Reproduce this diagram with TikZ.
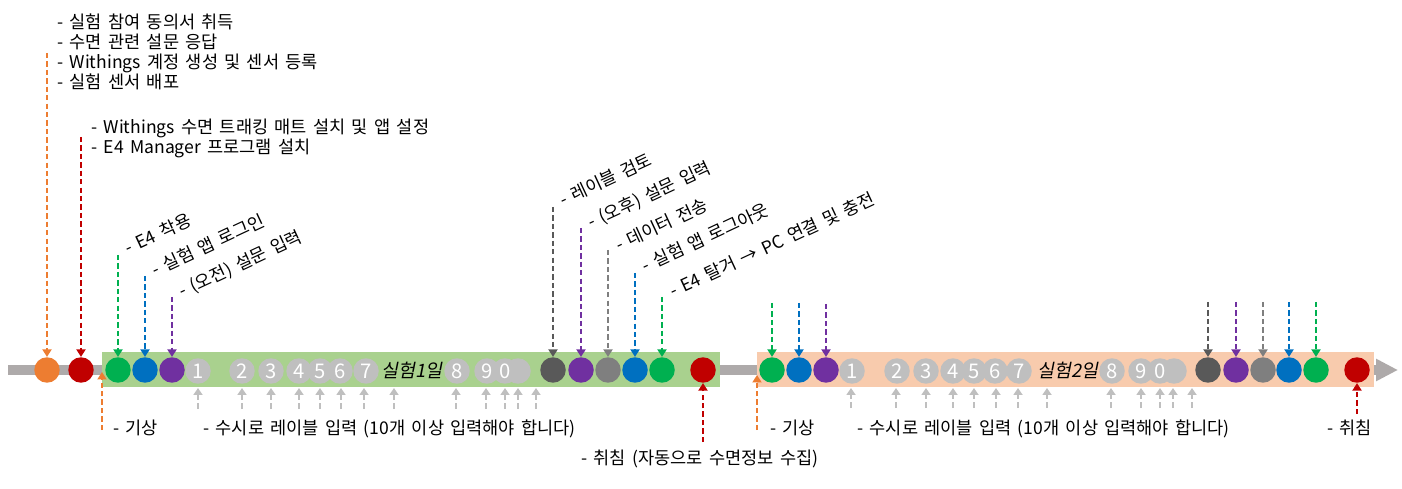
\documentclass[tikz,border=0pt]{standalone}
\usepackage{fontspec}
\setmainfont{Noto Sans CJK KR}[WordSpace=1.6]
\newfontfamily\slantfont{Noto Sans CJK KR}[FakeSlant=0.2]
\usepackage{tikz}
\usetikzlibrary{arrows.meta}
\definecolor{axisgrey}{RGB}{174,170,170}
\definecolor{bandgreen}{RGB}{169,209,142}
\definecolor{bandorange}{RGB}{248,203,173}
\definecolor{preporange}{RGB}{237,125,49}
\definecolor{sleepred}{RGB}{192,0,0}
\definecolor{weargreen}{RGB}{0,176,80}
\definecolor{loginblue}{RGB}{0,112,192}
\definecolor{surveypurple}{RGB}{112,48,160}
\definecolor{reviewgrey}{RGB}{89,89,89}
\definecolor{sendgrey}{RGB}{127,127,127}
\definecolor{numgrey}{RGB}{191,191,191}
\tikzset{
  dot/.style={circle,minimum size=5.1mm,inner sep=0pt},
  numdot/.style={dot,fill=numgrey,text=white,font=\fontsize{11.5}{11.5}\selectfont},
  note/.style={anchor=base west,inner sep=0pt,font=\fontsize{10}{12}\selectfont},
  tilted/.style={note,rotate=25},
  daytext/.style={inner sep=0pt,font=\slantfont\fontsize{10.5}{12}\selectfont},
  cue/.style={line width=1.2pt,dash pattern=on 3pt off 1.8pt,
    -{Triangle[length=1.5mm,width=1.8mm]}},
  inputcue/.style={line width=1.1pt,draw=numgrey,dash pattern=on 3.2pt off 2pt,
    -{Triangle[length=1.4mm,width=1.8mm]}},
  axisbar/.style={line width=2.2mm,draw=axisgrey,
    -{Triangle[length=4.4mm,width=4.2mm]}}
}

\begin{document}
\begin{tikzpicture}[x=0.02cm,y=-0.02cm]
  \useasboundingbox (0,0) rectangle (1402,489);
  \coordinate (start) at (8,370);
  \coordinate (finish) at (1398,370);
  \draw[axisbar] (start) -- (finish);
  \fill[bandgreen] (102,352) rectangle (720,387);
  \fill[bandorange] (757,352) rectangle (1374,387);

  \node[dot,fill=preporange] (consent) at (47,370) {};
  \node[dot,fill=sleepred] (install) at (81,370) {};

  \node[dot,fill=weargreen] (wearone) at (118,370) {};
  \node[dot,fill=loginblue] (loginone) at (145,370) {};
  \node[dot,fill=surveypurple] (amone) at (172,370) {};
  \node[numdot] (blankone) at (518,371) {};
  \foreach \x/\n [count=\i] in {198/1,242/2,271/3,299/4,320/5,340/6,366/7,457/8,487/9,505/0}
    \node[numdot] (labone\i) at (\x,371) {\n};
  \node[daytext] (dayone) at (412,370) {실험1일};
  \node[dot,fill=reviewgrey] (reviewone) at (553,370) {};
  \node[dot,fill=surveypurple] (pmone) at (581,370) {};
  \node[dot,fill=sendgrey] (sendone) at (608,370) {};
  \node[dot,fill=loginblue] (logoutone) at (635,370) {};
  \node[dot,fill=weargreen] (removeone) at (662,370) {};
  \node[dot,fill=sleepred] (sleepone) at (703,370) {};

  \node[dot,fill=weargreen] (weartwo) at (772,370) {};
  \node[dot,fill=loginblue] (logintwo) at (799,370) {};
  \node[dot,fill=surveypurple] (amtwo) at (826,370) {};
  \node[numdot] (blanktwo) at (1174,371) {};
  \foreach \x/\n [count=\i] in {852/1,897/2,926/3,953/4,974/5,995/6,1019/7,1112/8,1141/9,1160/0}
    \node[numdot] (labtwo\i) at (\x,371) {\n};
  \node[daytext] (daytwo) at (1068,370) {실험2일};
  \node[dot,fill=reviewgrey] (reviewtwo) at (1208,370) {};
  \node[dot,fill=surveypurple] (pmtwo) at (1236,370) {};
  \node[dot,fill=sendgrey] (sendtwo) at (1263,370) {};
  \node[dot,fill=loginblue] (logouttwo) at (1289,370) {};
  \node[dot,fill=weargreen] (removetwo) at (1316,370) {};
  \node[dot,fill=sleepred] (sleeptwo) at (1357,370) {};

  \node[note] (prepa) at (57,29) {- 실험 참여 동의서 취득};
  \node[note] (prepb) at (57,49) {- 수면 관련 설문 응답};
  \node[note] (prepc) at (57,69) {- Withings 계정 생성 및 센서 등록};
  \node[note] (prepd) at (57,89) {- 실험 센서 배포};
  \node[note] (setupa) at (91,134) {- Withings 수면 트래킹 매트 설치 및 앱 설정};
  \node[note] (setupb) at (91,154) {- E4 Manager 프로그램 설치};

  \node[tilted] (wearnote) at (128,255) {- E4 착용};
  \node[tilted] (loginnote) at (155,277) {- 실험 앱 로그인};
  \node[tilted] (amnote) at (182,298) {- (오전) 설문 입력};
  \node[tilted] (reviewnote) at (563,207) {- 레이블 검토};
  \node[tilted] (pmnote) at (591,229) {- (오후) 설문 입력};
  \node[tilted] (sendnote) at (619,252) {- 데이터 전송};
  \node[tilted] (logoutnote) at (645,273) {- 실험 앱 로그아웃};
  \node[tilted] (removenote) at (673,298) {- E4 탈거 → PC 연결 및 충전};

  \node[note] (wakeone) at (113,434) {- 기상};
  \node[note] (inputone) at (203,434) {- 수시로 레이블 입력 (10개 이상 입력해야 합니다)};
  \node[note] (sleepnoteone) at (581,464) {- 취침 (자동으로 수면정보 수집)};
  \node[note] (waketwo) at (770,434) {- 기상};
  \node[note] (inputtwo) at (857,434) {- 수시로 레이블 입력 (10개 이상 입력해야 합니다)};
  \node[note] (sleepnotetwo) at (1327,434) {- 취침};

  \coordinate (consenttop) at (47,53);
  \coordinate (installtop) at (81,137);
  \draw[cue,preporange] (consenttop) -- (consent);
  \draw[cue,sleepred] (installtop) -- (install);

  \coordinate (wearonetop) at (118,255);
  \coordinate (loginonetop) at (145,276);
  \coordinate (amonetop) at (172,297);
  \coordinate (reviewonetop) at (553,207);
  \coordinate (pmonetop) at (581,228);
  \coordinate (sendonetop) at (608,250);
  \coordinate (logoutonetop) at (635,273);
  \coordinate (removeonetop) at (662,297);
  \draw[cue,weargreen] (wearonetop) -- (wearone);
  \draw[cue,loginblue] (loginonetop) -- (loginone);
  \draw[cue,surveypurple] (amonetop) -- (amone);
  \draw[cue,reviewgrey] (reviewonetop) -- (reviewone);
  \draw[cue,surveypurple] (pmonetop) -- (pmone);
  \draw[cue,sendgrey] (sendonetop) -- (sendone);
  \draw[cue,loginblue] (logoutonetop) -- (logoutone);
  \draw[cue,weargreen] (removeonetop) -- (removeone);

  \coordinate (weartwotop) at (772,303);
  \coordinate (logintwotop) at (799,303);
  \coordinate (amtwotop) at (826,304);
  \coordinate (reviewtwotop) at (1208,302);
  \coordinate (pmtwotop) at (1236,302);
  \coordinate (sendtwotop) at (1263,302);
  \coordinate (logouttwotop) at (1289,302);
  \coordinate (removetwotop) at (1316,302);
  \draw[cue,weargreen] (weartwotop) -- (weartwo);
  \draw[cue,loginblue] (logintwotop) -- (logintwo);
  \draw[cue,surveypurple] (amtwotop) -- (amtwo);
  \draw[cue,reviewgrey] (reviewtwotop) -- (reviewtwo);
  \draw[cue,surveypurple] (pmtwotop) -- (pmtwo);
  \draw[cue,sendgrey] (sendtwotop) -- (sendtwo);
  \draw[cue,loginblue] (logouttwotop) -- (logouttwo);
  \draw[cue,weargreen] (removetwotop) -- (removetwo);

  \coordinate (wakeonefoot) at (102,430);
  \coordinate (wakeonetip) at (102,372);
  \coordinate (waketwofoot) at (757,430);
  \coordinate (waketwotip) at (757,375);
  \coordinate (sleeponefoot) at (703,442);
  \coordinate (sleeptwofoot) at (1357,414);
  \draw[cue,preporange] (wakeonefoot) -- (wakeonetip);
  \draw[cue,preporange] (waketwofoot) -- (waketwotip);
  \draw[cue,sleepred] (sleeponefoot) -- (sleepone);
  \draw[cue,sleepred] (sleeptwofoot) -- (sleeptwo);

  \foreach \x [count=\i] in {198,242,271,299,320,341,364,394,456,486,505,518,536} {
    \coordinate (inone\i) at (\x,409);
    \coordinate (tipone\i) at (\x,388);
    \draw[inputcue] (inone\i) -- (tipone\i);
  }
  \foreach \x [count=\i] in {851,896,926,953,974,996,1018,1047,1111,1141,1160,1173,1192} {
    \coordinate (intwo\i) at (\x,408);
    \coordinate (tiptwo\i) at (\x,388);
    \draw[inputcue] (intwo\i) -- (tiptwo\i);
  }
\end{tikzpicture}
\end{document}
